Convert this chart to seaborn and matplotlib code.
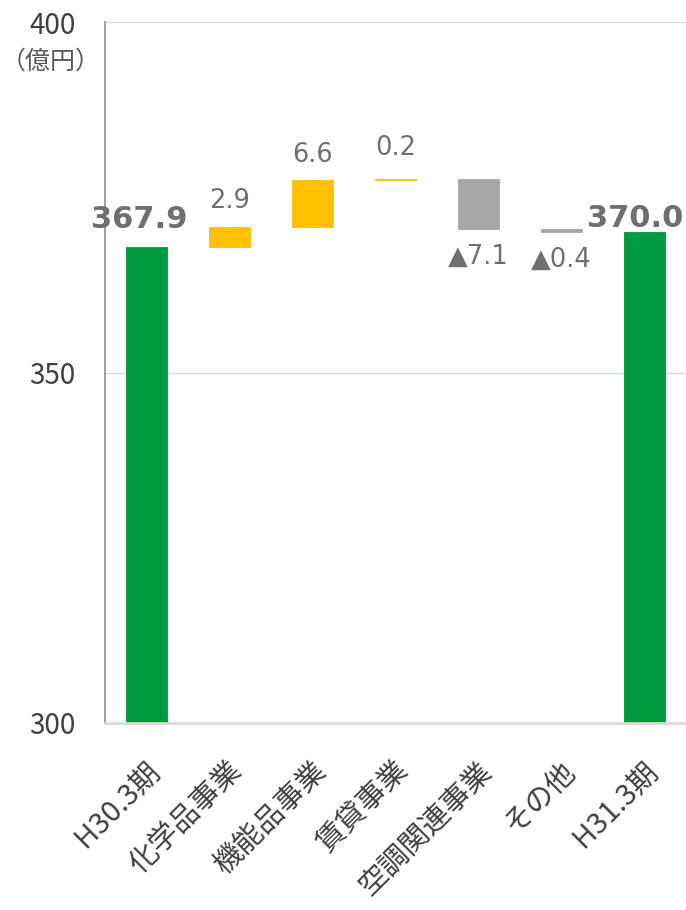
import numpy as np
import pandas as pd
import matplotlib
matplotlib.use("Agg")
import matplotlib.pyplot as plt
import matplotlib.transforms as mtransforms
import seaborn as sns

# ---- data ----
categories = ["H30.3期", "化学品事業", "機能品事業", "賃貸事業", "空調関連事業", "その他", "H31.3期"]
start_total = 367.9
deltas = [2.9, 6.6, 0.2, -7.1, -0.4]
end_total = 370.0
y_ticks = [300, 350, 400]
unit_label = "（億円）"

# ---- derived bar geometry ----
levels = np.cumsum([start_total] + deltas)
bases = [0.0] + list(np.minimum(levels[:-1], levels[1:])) + [0.0]
heights = [start_total] + [abs(d) for d in deltas] + [end_total]
kinds = ["total"] + ["up" if d > 0 else "down" for d in deltas] + ["total"]
labels = [f"{start_total:.1f}"] + [f"{d:.1f}" if d > 0 else f"▲{-d:.1f}" for d in deltas] + [f"{end_total:.1f}"]

df = pd.DataFrame({"cat": categories, "height": heights, "base": bases, "kind": kinds})

colors = {"total": "#009B3E", "up": "#FFC000", "down": "#A6A6A6"}

sns.set_style("white")
plt.rcParams["font.family"] = ["Noto Sans CJK JP", "DejaVu Sans"]

fig = plt.figure(figsize=(6.86, 9.10), dpi=100)
ax = fig.add_axes([105 / 686, 1 - 723 / 910, 581 / 686, 701 / 910])

sns.barplot(data=df, x="cat", y="height", bottom=df["base"].values, width=0.5,
            color="#009B3E", saturation=1, errorbar=None, ax=ax, linewidth=0)
for patch, k in zip(ax.patches, kinds):
    patch.set_facecolor(colors[k])
    patch.set_edgecolor(colors[k])
    patch.set_linewidth(0.6)

ax.set_ylim(300, 400)
ax.set_yticks(y_ticks)
ax.set_xlim(-0.5, len(categories) - 0.5)
ax.set_xlabel("")
ax.set_ylabel("")

ax.yaxis.grid(True, color="#D9D9D9", linewidth=1)
ax.xaxis.grid(False)
ax.set_axisbelow(True)
for s in ["top", "right"]:
    ax.spines[s].set_visible(False)
ax.spines["left"].set_color("#8C8C8C")
ax.spines["left"].set_linewidth(1.2)
ax.spines["bottom"].set_color("#D9D9D9")
ax.spines["bottom"].set_linewidth(2)

ax.set_xticks(range(len(categories)))
ax.set_xticklabels(categories, rotation=45, ha="right", va="center",
                   rotation_mode="anchor")
ax.tick_params(axis="y", length=7, width=1.2, color="#8C8C8C", pad=14,
               labelsize=20, labelcolor="#404040")
ax.tick_params(axis="x", length=0, pad=30, labelsize=21, labelcolor="#404040")
offset = mtransforms.ScaledTranslation(9 / 100, -2 / 100, fig.dpi_scale_trans)
for lab in ax.get_xticklabels():
    lab.set_transform(lab.get_transform() + offset)

# ---- data labels ----
label_color = "#6F6F6F"
for i, (k, lab) in enumerate(zip(kinds, labels)):
    b, h = bases[i], heights[i]
    top = b + h
    if k == "total":
        dx = -5 if i == 0 else -7
        dy = 13.5 if i == 0 else 3.5
        ax.annotate(lab, (i, top), xytext=(dx, dy), textcoords="offset points",
                    ha="center", va="baseline", fontsize=22, fontweight="bold",
                    color=label_color, family="DejaVu Sans")
    elif k == "up":
        dy = 17 if abs(h) < 1 else 13.5
        ax.annotate(lab, (i, top), xytext=(0, dy), textcoords="offset points",
                    ha="center", va="baseline", fontsize=18.5,
                    color=label_color, family=["DejaVu Sans"])
    else:
        ax.annotate(lab, (i, b), xytext=(0, -11), textcoords="offset points",
                    ha="center", va="top", fontsize=18.5,
                    color=label_color, family=["DejaVu Sans"])

fig.text(51 / 686, 1 - 62 / 910, unit_label, ha="center", va="center",
         fontsize=18, color="#595959", family=["Noto Sans CJK JP", "DejaVu Sans"])

fig.savefig("out.png", dpi=100)
